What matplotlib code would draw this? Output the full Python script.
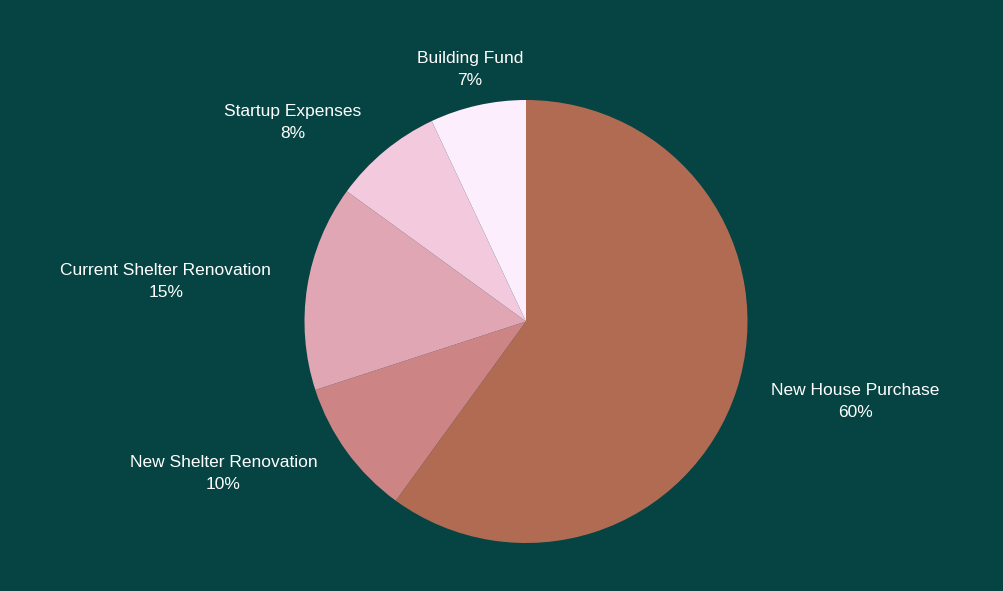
import matplotlib
matplotlib.use("Agg")
import matplotlib.pyplot as plt

categories = ["New House Purchase", "New Shelter Renovation", "Current Shelter Renovation",
              "Startup Expenses", "Building Fund"]
values = [60, 10, 15, 8, 7]
colors = ["#b26b53", "#cd8484", "#e1a6b3", "#f2c9dd", "#fdeefd"]
bg = "#054442"

plt.rcParams['font.family'] = ['Liberation Sans', 'DejaVu Sans']

W, H = 1004, 591
fig = plt.figure(figsize=(W / 100, H / 100), dpi=100, facecolor=bg)
cx, cy, r = 526, 321.5, 221.5
ax = fig.add_axes([(cx - r) / W, (H - cy - r) / H, 2 * r / W, 2 * r / H])
ax.set_facecolor(bg)

total = sum(values)
labels = [f"{c}\n{round(v * 100 / total)}%" for c, v in zip(categories, values)]
wedges, texts = ax.pie(values, labels=labels, colors=colors, startangle=90, counterclock=False,
                       labeldistance=1.165, radius=1,
                       wedgeprops=dict(linewidth=0),
                       textprops=dict(color="white", fontsize=12.5, linespacing=1.6))
for t in texts:
    x, y = t.get_position()
    t.set_va("center")
    if abs(x) < 0.3:
        t.set_ha("center")
    elif x > 0:
        t.set_ha("left")
    else:
        t.set_ha("right")
    t.set_multialignment("center")
ax.set_xlim(-1, 1)
ax.set_ylim(-1, 1)
ax.set_aspect("equal")
ax.axis("off")

fig.savefig("out.png", dpi=100, facecolor=bg)
